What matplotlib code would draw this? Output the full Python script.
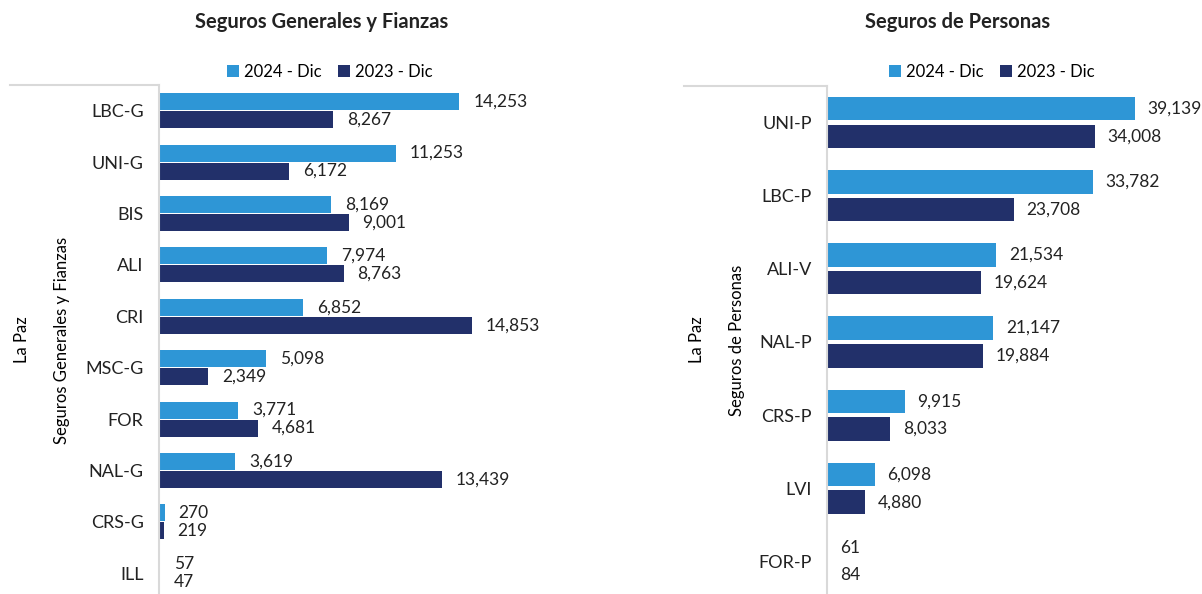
import matplotlib.pyplot as plt
from matplotlib.lines import Line2D

plt.rcParams['font.family'] = ['Lato', 'DejaVu Sans']

# Seguros Generales y Fianzas
gen_cats = ["LBC-G", "UNI-G", "BIS", "ALI", "CRI", "MSC-G", "FOR", "NAL-G", "CRS-G", "ILL"]
gen_2024 = [14253, 11253, 8169, 7974, 6852, 5098, 3771, 3619, 270, 57]
gen_2023 = [8267, 6172, 9001, 8763, 14853, 2349, 4681, 13439, 219, 47]

# Seguros de Personas
per_cats = ["UNI-P", "LBC-P", "ALI-V", "NAL-P", "CRS-P", "LVI", "FOR-P"]
per_2024 = [39139, 33782, 21534, 21147, 9915, 6098, 61]
per_2023 = [34008, 23708, 19624, 19884, 8033, 4880, 84]

series_names = ["2024 - Dic", "2023 - Dic"]
c24 = "#2E96D6"
c23 = "#22306A"
grid_c = "#D9D9D9"

W, H = 1202, 594
fig = plt.figure(figsize=(W / 100, H / 100), dpi=100)


def px(x0, y0, x1, y1):
    # pixel box -> figure fraction [left, bottom, width, height]
    return [x0 / W, 1 - y1 / H, (x1 - x0) / W, (y1 - y0) / H]


def panel(box, cats, v24, v23, xmax, off, bh, title, group, tx, lx, legx, lab_off):
    ax = fig.add_axes(px(*box))
    n = len(cats)
    ys = list(range(n))
    b1 = ax.barh([y - off for y in ys], v24, height=bh, color=c24, label=series_names[0])
    b2 = ax.barh([y + off for y in ys], v23, height=bh, color=c23, label=series_names[1])
    for bars, vals in ((b1, v24), (b2, v23)):
        for b, v in zip(bars, vals):
            ax.text(v + lab_off, b.get_y() + b.get_height() / 2, f"{v:,}",
                    va="center", ha="left", fontsize=12.5, color="#222222")
    ax.set_ylim(n - 0.5, -0.5)
    ax.set_xlim(0, xmax)
    ax.set_yticks(ys)
    ax.set_yticklabels(cats, fontsize=13, color="#222222")
    ax.tick_params(axis="y", length=0, pad=11)
    ax.set_xticks([])
    for s in ("top", "right", "bottom"):
        ax.spines[s].set_visible(False)
    ax.spines["left"].set_color(grid_c)
    ax.spines["left"].set_linewidth(1.5)

    fig.text(tx / W, 1 - 22 / H, title, ha="center", va="center",
             fontsize=14.5, fontweight="bold", color="#222222")
    fig.legend(handles=[b1, b2], loc="center", bbox_to_anchor=(legx / W, 1 - 72 / H),
               ncol=2, frameon=False, fontsize=12, handlelength=0.7, handleheight=0.7,
               handletextpad=0.3, columnspacing=1.0)
    cy = 1 - 340 / H
    fig.text(lx[0] / W, cy, "La Paz", rotation=90, ha="center", va="center", fontsize=12)
    fig.text(lx[1] / W, cy, group, rotation=90, ha="center", va="center", fontsize=12)
    fig.add_artist(Line2D([lx[2] / W, box[0] / W], [1 - box[1] / H, 1 - box[1] / H],
                          color=grid_c, lw=1.5))
    return ax


panel((159, 85, 620, 599), gen_cats, gen_2024, gen_2023, 461 / 0.02107, 0.175, 0.33,
      "Seguros Generales y Fianzas", "Seguros Generales y Fianzas", 322,
      (22, 62, 10), 330, 660)

panel((827, 86, 1202, 598), per_cats, per_2024, per_2023, 375 / 0.00787, 0.19, 0.32,
      "Seguros de Personas", "Seguros de Personas", 958,
      (697, 737, 684), 992, 1600)

fig.savefig("out.png", dpi=100)
